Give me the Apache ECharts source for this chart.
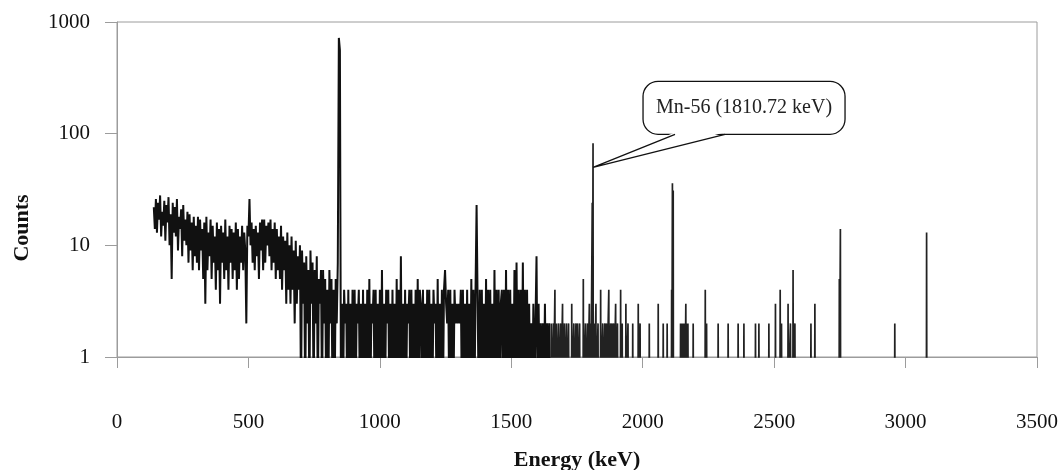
<!DOCTYPE html>
<html>
<head>
<meta charset="utf-8">
<script src="https://cdn.jsdelivr.net/npm/echarts@6/dist/echarts.min.js"></script>
<style>html,body{margin:0;padding:0;background:#fff}#c{width:1062px;height:470px}</style>
</head>
<body>
<div id="c"></div>
<script>
// ---- data ----
// energy calibration of the dense part of the spectrum (keV)
const lowStart = 140;
const midStart = 700;
const channelStep = 4;

// counts, 140 .. 696 keV
const lowCounts = [
  22,14,26,13,24,17,28,12,20,15,
  25,11,23,16,27,10,19,5,24,13,
  22,12,26,9,18,14,21,8,23,11,
  17,10,20,7,19,9,16,6,18,8,
  15,7,18,6,17,9,14,5,16,3,
  18,6,13,8,17,5,15,7,12,4,
  16,6,14,3,15,7,13,5,17,6,
  12,4,15,7,14,5,13,6,16,4,
  14,5,12,7,15,6,13,9,2,15,
  12,26,10,16,7,14,6,15,8,13,
  5,16,9,17,6,17,7,15,10,16,
  8,17,6,14,7,16,5,14,6,12,
  5,15,4,12,6,11,3,13,4,10,
  3,12,4,9,2,11,3,8,4,10
];

// counts, 700 .. 1648 keV (0 = empty channel)
const midCounts = [
  0,9,3,7,0,8,2,6,0,9,
  3,7,0,6,2,8,0,5,3,6,
  0,6,2,5,0,4,0,6,2,5,
  0,4,0,5,2,7,720,560,0,3,
  0,4,2,3,0,4,0,3,0,4,
  0,4,0,3,2,4,0,3,0,4,
  0,3,0,4,0,5,0,3,2,4,
  0,4,0,3,0,4,0,6,0,3,
  0,4,2,4,0,3,0,4,0,3,
  0,5,0,4,0,8,0,3,0,4,
  0,3,2,4,0,4,0,3,0,4,
  0,5,0,4,3,0,4,0,3,0,
  4,0,4,0,3,0,4,2,3,0,
  5,0,3,0,4,0,4,6,3,2,
  4,0,4,0,3,0,4,2,3,2,
  3,2,4,0,4,0,3,0,4,0,
  3,0,5,0,4,0,4,23,3,0,
  4,0,4,0,3,0,5,0,4,0,
  4,0,3,0,6,0,4,0,4,0,
  3,4,0,4,0,6,0,4,0,4,
  0,3,0,6,0,7,0,4,0,4,
  0,7,0,4,0,4,0,3,0,2,
  0,3,0,2,8,0,3,0,2,0,
  2,0,3,0,2,0,2,0
];

// isolated lines above 1650 keV (all other channels empty)
const peakEnergies = [
  1652,1660,1666,1672,1680,1688,1695,1702,1710,1718,1730,1738,1746,1752,1760,1774,1782,1790,1797,1802,
  1808,1811,1816,1822,1830,1840,1848,1856,1862,1871,1878,1884,1890,1897,1904,1916,1922,1936,1944,1962,
  1983,1990,2025,2059,2078,2093,2110,2113,2116,2144,2148,2152,2156,2160,2164,2168,2172,2192,2238,2243,
  2287,2325,2363,2385,2429,2442,2480,2505,2523,2528,2553,2562,2572,2579,2640,2655,2748,2752,2959,3080
];
const peakCounts = [
  2,2,4,2,2,2,3,2,2,2,3,2,2,2,2,5,2,2,3,2,
  24,82,2,3,2,4,2,2,2,4,2,2,2,3,2,4,2,3,2,2,
  3,2,2,3,2,2,4,36,31,2,2,2,2,2,3,2,2,2,4,2,
  2,2,2,2,2,2,2,3,4,2,3,2,6,2,2,3,5,14,2,13
];

const xTicks = [0,500,1000,1500,2000,2500,3000,3500];
const yTicks = [1,10,100,1000];
const annotationText = 'Mn-56 (1810.72 keV)';
const annotationPoint = [1811, 50];
const xTitle = 'Energy (keV)';
const yTitle = 'Counts';

// ---- build series ----
// an empty channel cannot sit on a log scale: it is drawn below the axis and clipped
const EMPTY = 0.4;
const show = c => (c > 0 ? c : EMPTY);
const dense = [];
lowCounts.forEach((c, i) => dense.push([lowStart + i * channelStep, show(c)]));
midCounts.forEach((c, i) => dense.push([midStart + i * channelStep, show(c)]));
const lines = [];
peakEnergies.forEach((e, i) => {
  lines.push([e - 0.8, EMPTY]);
  lines.push([e, peakCounts[i]]);
  lines.push([e + 0.8, EMPTY]);
});

const FONT = '"Liberation Serif", "Times New Roman", serif';
const AXIS = '#9c9c9c';

const chart = echarts.init(document.getElementById('c'), null, {renderer: 'canvas'});
chart.setOption({
  animation: false,
  backgroundColor: '#fff',
  grid: {left: 117, right: 25, top: 22, bottom: 113, show: true, borderColor: AXIS, borderWidth: 1,
         containLabel: false, outerBoundsMode: 'none'},
  xAxis: {
    type: 'value',
    min: xTicks[0], max: xTicks[xTicks.length - 1], interval: xTicks[1] - xTicks[0],
    name: xTitle, nameLocation: 'middle', nameGap: 92,
    nameTextStyle: {fontFamily: FONT, fontWeight: 'bold', fontSize: 22, color: '#111'},
    axisLine: {show: true, lineStyle: {color: AXIS, width: 1}},
    axisTick: {show: true, inside: false, length: 11, lineStyle: {color: AXIS}},
    axisLabel: {margin: 55, fontFamily: FONT, fontSize: 21, color: '#111', formatter: v => String(v)},
    splitLine: {show: false}
  },
  yAxis: {
    type: 'log', logBase: 10,
    min: yTicks[0], max: yTicks[yTicks.length - 1],
    axisLine: {show: true, lineStyle: {color: AXIS, width: 1}},
    axisTick: {show: true, inside: false, length: 12, lineStyle: {color: AXIS}},
    axisLabel: {margin: 27, fontFamily: FONT, fontSize: 21, color: '#111', formatter: v => String(Math.round(v))},
    splitLine: {show: false}
  },
  series: [{
    type: 'line',
    data: dense,
    symbol: 'none',
    clip: true,
    lineStyle: {color: '#111', width: 2},
    z: 3
  }, {
    type: 'line',
    data: lines,
    symbol: 'none',
    clip: true,
    lineStyle: {color: '#222', width: 1.7},
    z: 3
  }]
});

// ---- callout and y title ----
const tip = chart.convertToPixel({xAxisIndex: 0, yAxisIndex: 0}, annotationPoint);
const bx = tip[0] + 50, by = tip[1] - 86, bw = 202, bh = 53;
const b1 = [tip[0] + 82, by + bh], b2 = [tip[0] + 132, by + bh];
chart.setOption({
  graphic: [
    {type: 'rect', z: 10, shape: {x: bx, y: by, width: bw, height: bh, r: 15}, style: {fill: '#fff', stroke: '#111', lineWidth: 1.3}},
    {type: 'polygon', z: 11, shape: {points: [[b1[0], b1[1] - 2], tip, [b2[0], b2[1] - 2]]}, style: {fill: '#fff', stroke: null}},
    {type: 'polyline', z: 12, shape: {points: [b1, tip, b2]}, style: {fill: null, stroke: '#111', lineWidth: 1.3}},
    {type: 'text', z: 13, style: {text: annotationText, x: bx + bw / 2, y: by + bh / 2, align: 'center', verticalAlign: 'middle', textAlign: 'center', textVerticalAlign: 'middle', font: '20px ' + FONT, fill: '#222'}},
    {type: 'text', z: 13, x: 22, y: 228, rotation: Math.PI / 2, style: {text: yTitle, x: 0, y: 0, align: 'center', verticalAlign: 'middle', textAlign: 'center', textVerticalAlign: 'middle', font: 'bold 22px ' + FONT, fill: '#111'}}
  ]
});
</script>
</body>
</html>
